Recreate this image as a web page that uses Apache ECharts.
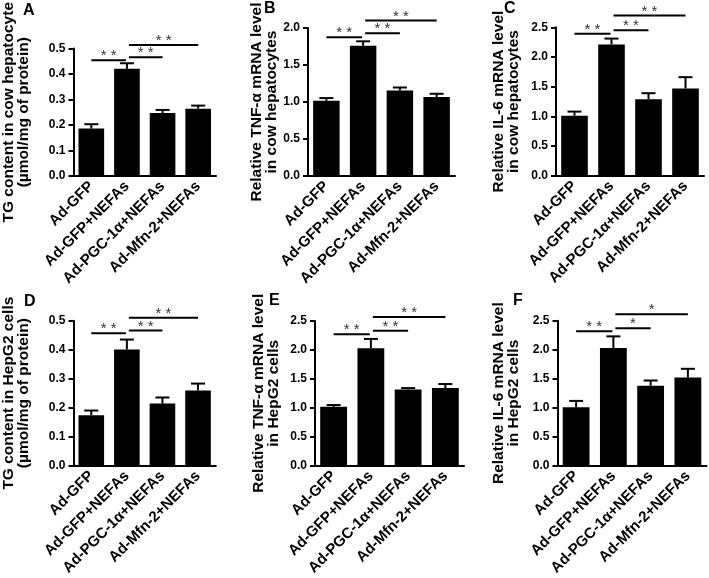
<!DOCTYPE html>
<html>
<head>
<meta charset="utf-8">
<script src="https://cdn.jsdelivr.net/npm/echarts@6/dist/echarts.min.js"></script>
<style>html,body{margin:0;padding:0;background:#fff}#c{width:709px;height:578px}</style>
</head>
<body>
<div id="c"></div>
<script>
const categories = ['Ad-GFP', 'Ad-GFP+NEFAs', 'Ad-PGC-1α+NEFAs', 'Ad-Mfn-2+NEFAs'];

const aMean = [0.186, 0.420, 0.247, 0.264];
const aErr  = [0.017, 0.022, 0.012, 0.012];
const bMean = [1.016, 1.76, 1.156, 1.066];
const bErr  = [0.037, 0.06, 0.04, 0.045];
const cMean = [1.01, 2.21, 1.29, 1.47];
const cErr  = [0.07, 0.10, 0.10, 0.19];
const dMean = [0.174, 0.401, 0.214, 0.259];
const dErr  = [0.016, 0.034, 0.021, 0.024];
const eMean = [1.017, 2.03, 1.315, 1.34];
const eErr  = [0.03, 0.16, 0.025, 0.07];
const fMean = [1.006, 2.03, 1.378, 1.52];
const fErr  = [0.11, 0.20, 0.09, 0.15];

// significance brackets: [from category, to category, y value, label]
const aSig = [[0, 1, 0.454, '**'], [1, 2, 0.466, '**'], [1, 3, 0.514, '**']];
const bSig = [[0, 1, 1.874, '**'], [1, 2, 1.93, '**'], [1, 3, 2.10, '**']];
const cSig = [[0, 1, 2.39, '**'], [1, 2, 2.45, '**'], [1, 3, 2.70, '**']];
const dSig = [[0, 1, 0.457, '**'], [1, 2, 0.466, '**'], [1, 3, 0.51, '**']];
const eSig = [[0, 1, 2.27, '**'], [1, 2, 2.33, '**'], [1, 3, 2.57, '**']];
const fSig = [[0, 1, 2.32, '**'], [1, 2, 2.37, '*'], [1, 3, 2.61, '*']];

const yMax = [0.5, 2.0, 2.5, 0.5, 2.5, 2.5];
const yInterval = [0.1, 0.5, 0.5, 0.1, 0.5, 0.5];
const yNames = [
  'TG content in cow hepatocyte\n(µmol/mg of protein)',
  'Relative TNF-α mRNA level\nin cow hepatocytes',
  'Relative IL-6 mRNA level\nin cow hepatocytes',
  'TG content in HepG2 cells\n(µmol/mg of protein)',
  'Relative TNF-α mRNA level\nin HepG2 cells',
  'Relative IL-6 mRNA level\nin HepG2 cells'
];
const panelLetters = ['A', 'B', 'C', 'D', 'E', 'F'];

const means = [aMean, bMean, cMean, dMean, eMean, fMean];
const errs = [aErr, bErr, cErr, dErr, eErr, fErr];
const sigs = [aSig, bSig, cSig, dSig, eSig, fSig];

const FONT = '"Liberation Sans", Arial, sans-serif';
const grids = [
  {left: 68, top: 29, width: 148, height: 147},
  {left: 308, top: 28, width: 147, height: 148},
  {left: 556, top: 27.3, width: 148, height: 148.4},
  {left: 67.8, top: 320.7, width: 148, height: 148},
  {left: 315, top: 321, width: 149, height: 147.5},
  {left: 557.5, top: 320.7, width: 149, height: 148.3}
];
const nameGaps = [42, 27, 35, 42, 34, 36];
const letterPos = [[29, 12], [270, 10], [510, 9.5], [30, 303], [275, 302], [519, 302]];

const xAxes = [], yAxes = [], series = [], graphics = [];
for (let i = 0; i < 6; i++) {
  xAxes.push({
    type: 'category', gridIndex: i, data: categories,
    axisLine: {lineStyle: {color: '#000', width: 2}},
    axisTick: {alignWithLabel: true, length: 5, lineStyle: {color: '#000', width: 2}},
    axisLabel: {rotate: 45, interval: 0, margin: 8, color: '#000', fontWeight: 'bold', fontSize: 15, fontFamily: FONT},
    splitLine: {show: false}
  });
  yAxes.push({
    type: 'value', gridIndex: i, min: 0, max: yMax[i], interval: yInterval[i],
    name: yNames[i], nameLocation: 'middle', nameGap: nameGaps[i],
    nameTextStyle: {color: '#000', fontWeight: 'bold', fontSize: 15.5, lineHeight: 15, fontFamily: FONT},
    axisLine: {show: true, lineStyle: {color: '#000', width: 2}},
    axisTick: {show: true, length: 5, lineStyle: {color: '#000', width: 2}},
    axisLabel: {color: '#000', fontWeight: 'bold', fontSize: 12, margin: 8, fontFamily: FONT,
      formatter: v => v.toFixed(1)},
    splitLine: {show: false}
  });
  series.push({
    type: 'bar', xAxisIndex: i, yAxisIndex: i, data: means[i],
    barWidth: '72%', itemStyle: {color: '#000'}, z: 2
  });
  const errData = means[i].map((m, k) => [k, m, errs[i][k]]);
  series.push({
    type: 'custom', xAxisIndex: i, yAxisIndex: i, data: errData, z: 3,
    encode: {x: 0, y: 1},
    renderItem: (params, api) => {
      const x = api.value(0), v = api.value(1), e = api.value(2);
      const b = api.coord([x, v]);
      const t = api.coord([x, v + e]);
      const half = 7;
      return {type: 'group', children: [
        {type: 'line', shape: {x1: b[0], y1: b[1], x2: t[0], y2: t[1]}, style: {stroke: '#000', lineWidth: 2}},
        {type: 'line', shape: {x1: t[0] - half, y1: t[1], x2: t[0] + half, y2: t[1]}, style: {stroke: '#000', lineWidth: 2}}
      ]};
    }
  });
  const sd = sigs[i];
  series.push({
    type: 'custom', xAxisIndex: i, yAxisIndex: i, data: sd.map(s => [s[0], s[1], s[2]]), z: 4,
    encode: {x: 0, y: 2}, clip: false,
    renderItem: (params, api) => {
      const s = sd[params.dataIndex];
      const p1 = api.coord([s[0], s[2]]);
      const p2 = api.coord([s[1], s[2]]);
      const x1 = p1[0] + (s[0] === 1 ? 2 : 0);
      const x2 = p2[0] - (s[1] === 1 ? 1 : 0);
      return {type: 'group', children: [
        {type: 'line', shape: {x1: x1, y1: p1[1], x2: x2, y2: p1[1]}, style: {stroke: '#000', lineWidth: 2}},
        {type: 'text', style: {text: s[3].split('').join(' '), x: (x1 + x2) / 2, y: p1[1] - 4,
          textAlign: 'center', textVerticalAlign: 'middle', font: '15px ' + FONT, fill: '#333'}}
      ]};
    }
  });
  graphics.push({type: 'text', left: letterPos[i][0] - 6, top: letterPos[i][1] - 9,
    style: {text: panelLetters[i], font: 'bold 16px ' + FONT, fill: '#000'}});
}

const chart = echarts.init(document.getElementById('c'), null, {renderer: 'canvas'});
chart.setOption({
  animation: false,
  backgroundColor: '#fff',
  grid: grids,
  xAxis: xAxes,
  yAxis: yAxes,
  series: series,
  graphic: graphics
});
</script>
</body>
</html>
